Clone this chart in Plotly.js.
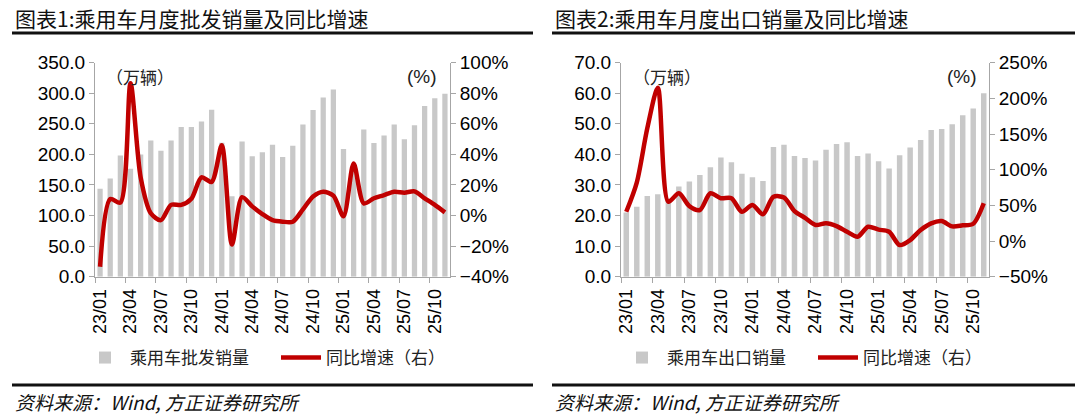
<!DOCTYPE html>
<html><head><meta charset="utf-8">
<script src="https://cdn.plot.ly/plotly-3.0.1.min.js"></script>
<style>html,body{margin:0;padding:0;background:#fff;} #chart{width:1080px;height:420px;}</style>
</head><body><div id="chart"></div>
<script>
const months = ["23/01","23/02","23/03","23/04","23/05","23/06","23/07","23/08","23/09","23/10","23/11","23/12",
  "24/01","24/02","24/03","24/04","24/05","24/06","24/07","24/08","24/09","24/10","24/11","24/12",
  "25/01","25/02","25/03","25/04","25/05","25/06","25/07","25/08","25/09","25/10","25/11"];
// 图表1：乘用车批发销量（万辆）及同比（%）
const wholesale = [143.9,160.8,198.4,176.6,200.0,222.9,206.0,222.9,244.7,244.7,254.0,273.0,
  219.0,131.6,221.0,197.0,203.6,215.9,195.6,214.2,249.0,272.5,293.2,306.3,
  208.7,181.0,240.9,218.5,231.0,249.0,224.6,247.5,279.0,292.0,299.3];
const wholesaleYoY = [-33.5,10.8,8.4,86.5,25.0,1.5,-3.0,7.0,7.0,11.0,25.0,22.0,
  46.0,-19.0,12.0,6.0,1.0,-3.0,-4.0,-4.0,4.0,12.5,15.6,13.0,
  -0.5,34.0,8.0,11.3,13.4,15.6,15.0,15.8,11.3,7.0,2.1];
// 图表2：乘用车出口销量（万辆）及同比（%）
const exportsVol = [21.0,22.9,26.4,27.0,25.5,29.5,31.1,33.3,35.8,39.0,37.4,33.7,
  32.5,31.3,42.4,43.2,39.5,38.8,38.0,41.5,43.4,44.0,39.5,40.3,
  37.8,35.4,39.7,42.3,44.7,48.0,48.3,49.9,52.8,55.0,60.0];
const exportsYoY = [41.0,82.0,158.0,215.0,55.0,67.0,49.0,43.5,67.0,60.0,60.0,41.0,
  50.5,37.5,62.0,61.0,42.0,32.5,22.5,25.0,21.0,13.0,6.0,20.0,
  16.0,13.0,-5.6,1.4,15.5,24.8,28.0,20.5,22.0,24.3,53.0];

const titles = ["图表1:乘用车月度批发销量及同比增速","图表2:乘用车月度出口销量及同比增速"];
const barNames = ["乘用车批发销量","乘用车出口销量"];
const lineName = "同比增速（右）";
const unitLabel = "（万辆）";
const pctLabel = "(%)";
const sourceText = "资料来源：Wind, 方正证券研究所";

const W = 1080, H = 420;
const px = x => x / W, py = y => 1 - y / H;
const NUM = "Arial, 'Liberation Sans', sans-serif";
const CJK = "'Noto Sans CJK SC', sans-serif";
const BAR = "#C8C8C8", RED = "#C00000", AX = "#A6A6A6";

const traces = [
  {type:"bar", x:months, y:wholesale, xaxis:"x", yaxis:"y", name:barNames[0], marker:{color:BAR}, legend:"legend"},
  {type:"scatter", mode:"lines", x:months, y:wholesaleYoY, xaxis:"x", yaxis:"y2", name:lineName,
   line:{color:RED, width:4.5, shape:"spline", smoothing:0.8}, legend:"legend"},
  {type:"bar", x:months, y:exportsVol, xaxis:"x2", yaxis:"y3", name:barNames[1], marker:{color:BAR}, legend:"legend2"},
  {type:"scatter", mode:"lines", x:months, y:exportsYoY, xaxis:"x2", yaxis:"y4", name:lineName,
   line:{color:RED, width:4.5, shape:"spline", smoothing:0.8}, legend:"legend2"}
];

const yTop = py(62.7), yBot = py(276.7);
function xAx(d0, d1, anchor) {
  return {domain:[px(d0), px(d1)], anchor:anchor, type:"category", tickmode:"linear", tick0:0, dtick:3,
    tickson:"boundaries", ticks:"outside", ticklen:5, tickcolor:AX, showline:true, linecolor:AX, linewidth:1,
    tickangle:-90, tickfont:{family:NUM, size:18, color:"#000"}, ticklabelstandoff:4,
    showgrid:false, zeroline:false, fixedrange:true};
}
function yAx(extra) {
  return Object.assign({domain:[yBot, yTop], ticks:"outside", ticklen:5, tickcolor:AX, showline:true,
    linecolor:AX, linewidth:1, showgrid:false, zeroline:false, tickfont:{family:NUM, size:19, color:"#000"},
    fixedrange:true}, extra);
}
const legendBase = {orientation:"h", xanchor:"left", yanchor:"middle", y:py(358),
  font:{family:CJK, size:17, color:"#222"}, itemwidth:40, bgcolor:"rgba(0,0,0,0)", borderwidth:0,
  entrywidth:141, entrywidthmode:"pixels", traceorder:"normal"};

const ann = [];
const shp = [];
[[13, 12, 533], [553, 552, 1075]].forEach((p, i) => {
  ann.push({xref:"paper", yref:"paper", x:px(p[0]), y:py(18), xanchor:"left", yanchor:"middle", showarrow:false,
    text:titles[i], font:{family:CJK, size:21, color:"#111"}});
  ann.push({xref:"paper", yref:"paper", x:px(p[0]), y:py(401), xanchor:"left", yanchor:"middle", showarrow:false,
    text:sourceText, font:{family:CJK, size:19, color:"#111", style:"italic"}});
  shp.push({type:"line", xref:"paper", yref:"paper", x0:px(p[1]), x1:px(p[2]), y0:py(33), y1:py(33), line:{color:"#111", width:3}});
  shp.push({type:"line", xref:"paper", yref:"paper", x0:px(p[1]), x1:px(p[2]), y0:py(385), y1:py(385), line:{color:"#111", width:3}});
});
[[104, 405], [631, 945]].forEach(p => {
  ann.push({xref:"paper", yref:"paper", x:px(p[0]), y:py(76), xanchor:"left", yanchor:"middle", showarrow:false,
    text:unitLabel, font:{family:CJK, size:17, color:"#222"}});
  ann.push({xref:"paper", yref:"paper", x:px(p[1]), y:py(76), xanchor:"left", yanchor:"middle", showarrow:false,
    text:pctLabel, font:{family:NUM, size:19, color:"#222"}});
});

const layout = {
  width:W, height:H, margin:{l:0, r:0, t:0, b:0}, paper_bgcolor:"#fff", plot_bgcolor:"rgba(0,0,0,0)",
  bargap:0.48, showlegend:true,
  xaxis: xAx(95, 450, "y"),
  yaxis: yAx({anchor:"x", range:[0, 350], dtick:50, tickformat:".1f"}),
  yaxis2: yAx({anchor:"x", overlaying:"y", side:"right", range:[-40, 100], dtick:20, ticksuffix:"%"}),
  xaxis2: xAx(621, 989, "y3"),
  yaxis3: yAx({anchor:"x2", range:[0, 70], dtick:10, tickformat:".1f"}),
  yaxis4: yAx({anchor:"x2", overlaying:"y3", side:"right", range:[-50, 250], dtick:50, ticksuffix:"%"}),
  legend: Object.assign({}, legendBase, {x:px(80)}),
  legend2: Object.assign({}, legendBase, {x:px(617)}),
  annotations: ann, shapes: shp
};
Plotly.newPlot("chart", traces, layout, {displayModeBar:false, staticPlot:true});
</script></body></html>
